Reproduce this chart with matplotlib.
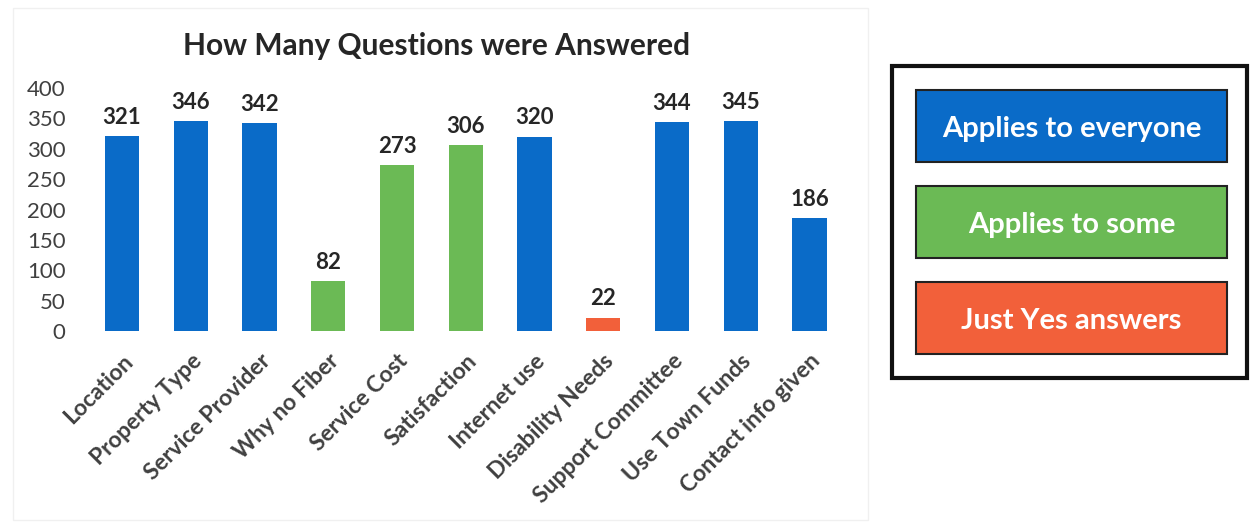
import matplotlib
matplotlib.use("Agg")
import matplotlib.pyplot as plt
from matplotlib.patches import Rectangle

categories = ["Location", "Property Type", "Service Provider", "Why no Fiber",
              "Service Cost", "Satisfaction", "Internet use", "Disability Needs",
              "Support Committee", "Use Town Funds", "Contact info given"]
values = [321, 346, 342, 82, 273, 306, 320, 22, 344, 345, 186]
groups = ["everyone", "everyone", "everyone", "some", "some", "some",
          "everyone", "yes", "everyone", "everyone", "everyone"]
group_labels = {"everyone": "Applies to everyone", "some": "Applies to some",
                "yes": "Just Yes answers"}
group_order = ["everyone", "some", "yes"]
colors = {"everyone": "#0A6BC8", "some": "#6BBA55", "yes": "#F2603A"}
yticks = [0, 50, 100, 150, 200, 250, 300, 350, 400]

plt.rcParams['font.family'] = ['Lato', 'DejaVu Sans']
text_col = "#404040"

fig = plt.figure(figsize=(12.52, 5.31), dpi=100)
fig.patch.set_facecolor("white")
# faint chart area frame
fig.patches.append(Rectangle((0.010, 0.02), 0.683, 0.965, transform=fig.transFigure,
                             fill=False, edgecolor="#f0f0f0", linewidth=1.0))

ax = fig.add_axes([0.070, 0.3766, 0.604, 0.4576])
x = list(range(len(categories)))
ax.bar(x, values, width=0.5, color=[colors[g] for g in groups])
for xi, v in zip(x, values):
    ax.annotate(str(v), (xi, v), xytext=(0, 6), textcoords="offset points",
                ha="center", va="bottom", fontsize=16, fontweight="bold", color="#262626")
ax.set_xlim(-0.5, len(categories) - 0.5)
ax.set_ylim(0, 400)
ax.set_yticks(yticks)
ax.set_yticklabels([str(t) for t in yticks], fontsize=16, color=text_col)
ax.set_xticks(x)
ax.set_xticklabels(categories, rotation=45, ha="right", rotation_mode="anchor",
                   fontsize=16.5, fontweight="bold", color=text_col)
ax.tick_params(axis="x", length=0, pad=14)
ax.tick_params(axis="y", length=0, pad=16)
for s in ax.spines.values():
    s.set_visible(False)
ax.set_title("How Many Questions were Answered", fontsize=21.5, fontweight="bold",
             color="#262626", pad=24, x=0.462)

# legend panel
W, H = 1252, 531
def fr(x0, y0, x1, y1):
    return (x0 / W, 1 - y1 / H), (x1 - x0) / W, (y1 - y0) / H
(xy, w, h) = fr(892, 66, 1247, 378)
fig.patches.append(Rectangle(xy, w, h, transform=fig.transFigure, fill=False,
                             edgecolor="#111111", linewidth=3))
box_y = [(90, 162), (186, 258), (282, 354)]
for g, (y0, y1) in zip(group_order, box_y):
    (xy, w, h) = fr(916, y0, 1227, y1)
    fig.patches.append(Rectangle(xy, w, h, transform=fig.transFigure,
                                 facecolor=colors[g], edgecolor="#222222", linewidth=1.5))
    fig.text(xy[0] + w / 2, xy[1] + h / 2 - 3 / H, group_labels[g], ha="center", va="center",
             fontsize=21, fontweight="bold", color="white")

fig.savefig("out.png", dpi=100)
